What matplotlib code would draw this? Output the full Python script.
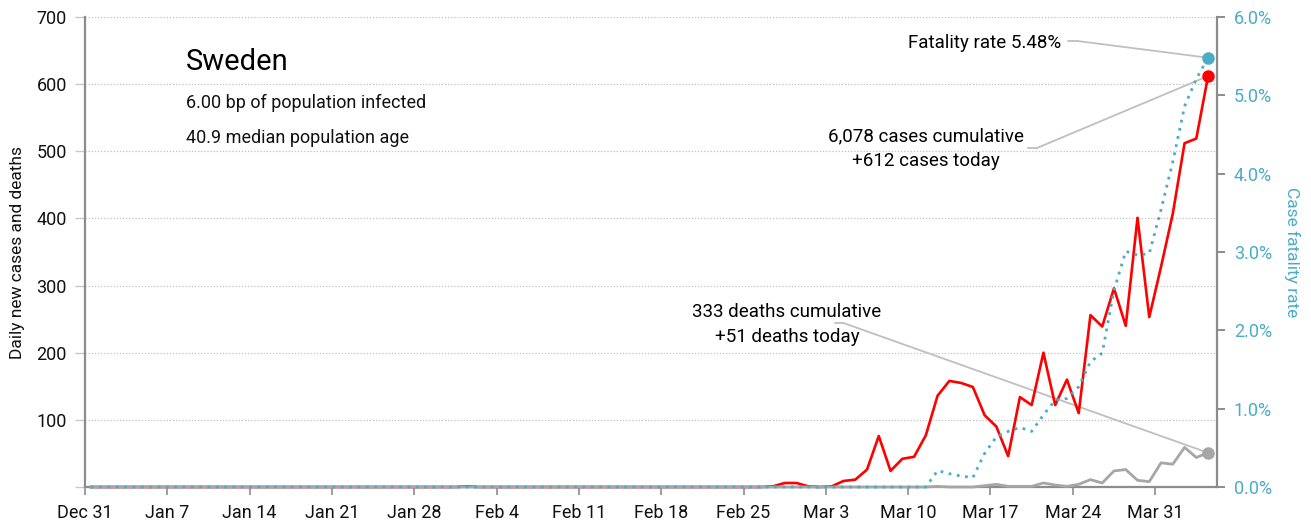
import pandas as pd
import matplotlib
matplotlib.use("Agg")
import matplotlib.pyplot as plt

plt.rcParams['font.family'] = ['Roboto', 'DejaVu Sans']

# daily data, Dec 31 2019 .. Apr 4 2020
dates = pd.date_range("2019-12-31", "2020-04-04", freq="D")

new_cases = ([0] * 32 + [1] + [0] * 25 +
             [1, 6, 6, 1, 0, 1,                      # Feb 27 - Mar 3
              9, 11, 26, 76, 24, 42, 45,             # Mar 4 - Mar 10
              77, 136, 158, 155, 149, 107, 90,       # Mar 11 - Mar 17
              46, 134, 122, 200, 122, 160, 110,      # Mar 18 - Mar 24
              256, 239, 296, 240, 401, 253, 328,     # Mar 25 - Mar 31
              407, 512, 519, 612])                   # Apr 1 - Apr 4

new_deaths = ([0] * 72 +
              [1, 0, 0, 0, 2, 4, 1, 1, 1, 6, 3, 1, 4,   # Mar 12 - Mar 24
               11, 6, 24, 26, 10, 8, 36,               # Mar 25 - Mar 31
               34, 59, 44, 51])                        # Apr 1 - Apr 4

fatality_rate = ([0.0] * 72 +
                 [0.21, 0.17, 0.14, 0.12, 0.43, 0.64, 0.71, 0.76, 0.71,
                  0.92, 1.11, 1.13, 1.28, 1.60, 1.71, 2.51, 3.01, 2.96,
                  2.98, 3.54, 4.15, 4.86, 5.21, 5.48])

RED = '#ff0000'
GREY = '#a6a6a6'
BLUE = '#4bacc6'
SPINE = '#8c8c8c'
LEADER = '#bfbfbf'

x = dates + pd.Timedelta(hours=12)

fig = plt.figure(figsize=(13.11, 5.26), dpi=100)
ax = fig.add_axes([0.0648, 0.0741, 0.8635, 0.8936])
ax2 = ax.twinx()

ax.plot(x, new_cases, color=RED, lw=1.9, zorder=3, clip_on=False)
ax.plot(x, new_deaths, color=GREY, lw=2.0, zorder=3, clip_on=False)
ax.plot(x[-1], new_cases[-1], 'o', color=RED, ms=8, zorder=4)
ax.plot(x[-1], new_deaths[-1], 'o', color=GREY, ms=8, zorder=4)

ax2.plot(x, fatality_rate, color=BLUE, lw=2.0, ls=(0, (1, 2)), zorder=3, clip_on=False)
ax2.plot(x[-1], fatality_rate[-1], 'o', color=BLUE, ms=8, zorder=4)

ax.set_xlim(dates[0], dates[0] + pd.Timedelta(days=96.26))
ax.set_ylim(0, 700)
ax2.set_ylim(0, 6)

ticks = pd.date_range("2019-12-31", "2020-03-31", freq="7D")
ax.set_xticks(ticks)
ax.set_xticklabels([f"{d:%b} {d.day}" for d in ticks])
ax.set_yticks(range(0, 701, 100))
ax.set_yticklabels([''] + [str(v) for v in range(100, 701, 100)])
ax2.set_yticks(range(0, 7))
ax2.set_yticklabels([f"{v:.1f}%" for v in range(0, 7)])

ax.grid(axis='y', ls=(0, (1, 1.5)), color='#c0c0c0', lw=0.9)
ax.set_axisbelow(True)

ax.spines['top'].set_visible(False)
ax.spines['right'].set_visible(False)
ax2.spines['top'].set_visible(False)
ax2.spines['left'].set_visible(False)
ax2.spines['bottom'].set_visible(False)
for s in ('left', 'bottom'):
    ax.spines[s].set_color(SPINE)
    ax.spines[s].set_linewidth(1.6)
ax2.spines['right'].set_color(SPINE)
ax2.spines['right'].set_linewidth(1.6)

ax.tick_params(axis='x', length=6, width=1.2, color=SPINE, labelsize=13, pad=6, labelcolor='#111111')
ax.tick_params(axis='y', length=7, width=1, color='#c8c8c8', labelsize=13, pad=6, labelcolor='#111111')
ax2.tick_params(axis='y', length=6, width=1.4, color=SPINE, labelsize=13, pad=6, labelcolor=BLUE)

ax.set_ylabel('Daily new cases and deaths', fontsize=12.5, color='#111111', labelpad=8)
ax2.set_ylabel('Case fatality rate', fontsize=12.5, color=BLUE, rotation=270, labelpad=20)

# country info
ax.text(0.0892, 0.904, 'Sweden', transform=ax.transAxes, fontsize=21, va='center', ha='left')
ax.text(0.0892, 0.817, '6.00 bp of population infected', transform=ax.transAxes,
        fontsize=13, va='center', ha='left', color='#111111')
ax.text(0.0892, 0.7426, '40.9 median population age', transform=ax.transAxes,
        fontsize=13, va='center', ha='left', color='#111111')

# callouts
line_kw = dict(arrowstyle='-', color=LEADER, lw=1.3, shrinkA=0, shrinkB=0)

ax2.text(0.8622, 0.9447, f'Fatality rate {fatality_rate[-1]:.2f}%', transform=ax.transAxes,
         fontsize=13.5, ha='right', va='center')
ax2.annotate('', xy=(0.8763, 0.949), xytext=(0.8684, 0.949), xycoords='axes fraction',
             arrowprops=line_kw)
ax2.annotate('', xy=(x[-1], fatality_rate[-1]), xytext=(0.8763, 0.949),
             textcoords='axes fraction', arrowprops=line_kw)

ax2.text(0.743, 0.7202, f'{sum(new_cases):,} cases cumulative\n+{new_cases[-1]} cases today',
         transform=ax.transAxes, fontsize=13.5, ha='center', va='center', linespacing=1.5)
ax2.annotate('', xy=(0.841, 0.7213), xytext=(0.833, 0.7213), xycoords='axes fraction',
             arrowprops=line_kw)
ax.annotate('', xy=(x[-1], new_cases[-1]), xytext=(0.841, 0.7213),
            textcoords='axes fraction', arrowprops=line_kw, zorder=1)

ax2.text(0.620, 0.3457, f'{sum(new_deaths):,} deaths cumulative\n+{new_deaths[-1]} deaths today',
         transform=ax.transAxes, fontsize=13.5, ha='center', va='center', linespacing=1.5)
ax2.annotate('', xy=(0.670, 0.349), xytext=(0.6625, 0.349), xycoords='axes fraction',
             arrowprops=line_kw)
ax.annotate('', xy=(x[-1], new_deaths[-1]), xytext=(0.670, 0.349),
            textcoords='axes fraction', arrowprops=line_kw, zorder=1)

fig.savefig('out.png', dpi=100)
